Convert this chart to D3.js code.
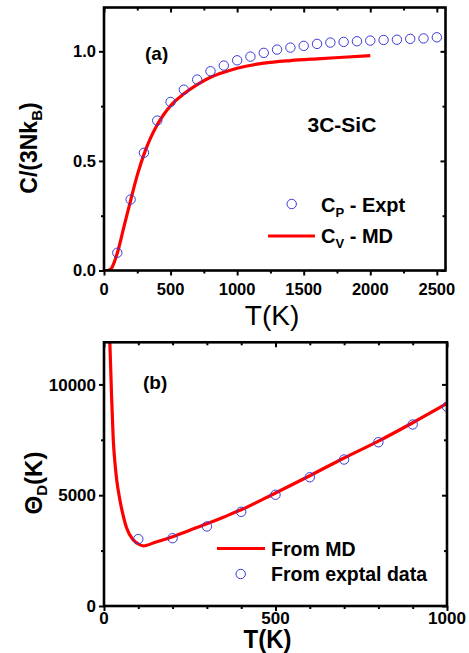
<!DOCTYPE html>
<html>
<head>
<meta charset="utf-8">
<script src="https://cdn.jsdelivr.net/npm/d3@7"></script>
<style>
  html, body { margin: 0; padding: 0; background: #fff; }
  svg { display: block; }
  text { font-family: "Liberation Sans", Arial, sans-serif; fill: #000; }
</style>
</head>
<body>
<svg id="chart" width="469" height="653"></svg>
<script>
// Panel (a): heat capacity of 3C-SiC
const cpTemps = [100, 200, 300, 400, 500, 600, 700, 800, 900, 1000, 1100, 1200, 1300,
                 1400, 1500, 1600, 1700, 1800, 1900, 2000, 2100, 2200, 2300, 2400, 2500];
const cpExpt  = [0.081, 0.324, 0.537, 0.684, 0.769, 0.825, 0.871, 0.909, 0.935, 0.959, 0.976, 0.993, 1.008,
                 1.017, 1.025, 1.034, 1.040, 1.043, 1.046, 1.049, 1.052, 1.053, 1.057, 1.059, 1.064];
const cvTemps = [0, 25, 50, 75, 100, 150, 200, 250, 300, 350, 400, 450, 500, 600, 700, 800,
                 900, 1000, 1200, 1400, 1600, 1800, 2000];
const cvMD    = [0, 0, 0.005, 0.035, 0.08, 0.2, 0.32, 0.435, 0.53, 0.605, 0.665, 0.713, 0.752, 0.806, 0.848, 0.882,
                 0.905, 0.923, 0.946, 0.958, 0.966, 0.973, 0.98];
const aXTicks = [0, 500, 1000, 1500, 2000, 2500];
const aYTicks = [0.0, 0.5, 1.0];

// Panel (b): Debye temperature
const thTempsMD = [16, 17, 20, 22, 27, 32, 37, 45, 52, 66, 85, 105, 115, 150, 200, 250, 300, 350,
                   400, 500, 600, 700, 800, 900, 1000];
const thetaMD   = [12300, 11900, 10500, 9500, 7500, 6450, 5700, 4900, 4350, 3520, 2990, 2760, 2715, 2880,
                   3130, 3420, 3710, 4020, 4340, 5100, 5880, 6680, 7440, 8270, 9140];
const thTempsEx = [100, 200, 300, 400, 500, 600, 700, 800, 900, 1000];
const thetaEx   = [3020, 3060, 3590, 4250, 5020, 5810, 6610, 7390, 8190, 8990];
const bXTicks = [0, 500, 1000];
const bYTicks = [0, 5000, 10000];

const RED = "#ff0000";
const BLUE = "#3a3ad8";

const svg = d3.select("#chart");

function range(a, b, s) { const r = []; for (let v = a; v <= b + 1e-9; v += s) r.push(+v.toFixed(6)); return r; }

function drawFrame(g, x, y, opts) {
  const [x0, x1] = x.range(), [y0, y1] = y.range();
  const left = Math.min(x0, x1), right = Math.max(x0, x1);
  const top = Math.min(y0, y1), bottom = Math.max(y0, y1);

  const clean = sel => { sel.select(".domain").remove(); sel.selectAll("line").attr("stroke", "#000").attr("stroke-width", 2); };

  // bottom / left: ticks outward
  g.append("g").attr("transform", `translate(0,${bottom})`)
    .call(d3.axisBottom(x).tickValues(opts.xMinor).tickSize(3).tickFormat("")).call(clean);
  g.append("g").attr("transform", `translate(0,${bottom})`)
    .call(d3.axisBottom(x).tickValues(opts.xMajor).tickSize(5).tickFormat("")).call(clean);
  g.append("g").attr("transform", `translate(${left},0)`)
    .call(d3.axisLeft(y).tickValues(opts.yMinor).tickSize(3).tickFormat("")).call(clean);
  g.append("g").attr("transform", `translate(${left},0)`)
    .call(d3.axisLeft(y).tickValues(opts.yMajor).tickSize(5).tickFormat("")).call(clean);
  // top / right: ticks inward
  g.append("g").attr("transform", `translate(0,${top})`)
    .call(d3.axisTop(x).tickValues(opts.xMinor).tickSize(-3).tickFormat("")).call(clean);
  g.append("g").attr("transform", `translate(0,${top})`)
    .call(d3.axisTop(x).tickValues(opts.xMajor).tickSize(-5).tickFormat("")).call(clean);
  g.append("g").attr("transform", `translate(${right},0)`)
    .call(d3.axisRight(y).tickValues(opts.yMinor).tickSize(-3).tickFormat("")).call(clean);
  g.append("g").attr("transform", `translate(${right},0)`)
    .call(d3.axisRight(y).tickValues(opts.yMajor).tickSize(-5).tickFormat("")).call(clean);

  g.append("rect")
    .attr("x", left).attr("y", top).attr("width", right - left).attr("height", bottom - top)
    .attr("fill", "none").attr("stroke", "#000").attr("stroke-width", 2.6);

  // tick labels
  g.selectAll(null).data(opts.xLabels).join("text")
    .attr("x", d => x(d)).attr("y", opts.xLabelY)
    .attr("text-anchor", "middle").attr("font-weight", "bold").attr("font-size", opts.labelSize)
    .text(d => opts.xFmt(d));
  g.selectAll(null).data(opts.yLabels).join("text")
    .attr("x", left - 8).attr("y", d => y(d)).attr("dy", "0.36em")
    .attr("text-anchor", "end").attr("font-weight", "bold").attr("font-size", opts.labelSize)
    .text(d => opts.yFmt(d));
}

/* ---------- panel (a) ---------- */
const xa = d3.scaleLinear().domain([0, 2565]).range([104, 445.5]);
const ya = d3.scaleLinear().domain([0, 1.2]).range([270.5, 7.5]);
const ga = svg.append("g");

ga.append("clipPath").attr("id", "clipA").append("rect")
  .attr("x", 104).attr("y", 7.5).attr("width", 341.5).attr("height", 263);

const lineA = d3.line().x(d => xa(d[0])).y(d => ya(d[1])).curve(d3.curveMonotoneX);
ga.append("path")
  .attr("clip-path", "url(#clipA)")
  .datum(cvTemps.map((t, i) => [t, cvMD[i]]))
  .attr("d", lineA).attr("fill", "none").attr("stroke", RED).attr("stroke-width", 3.2);

ga.append("g").attr("clip-path", "url(#clipA)")
  .selectAll("circle").data(cpTemps.map((t, i) => [t, cpExpt[i]])).join("circle")
  .attr("cx", d => xa(d[0])).attr("cy", d => ya(d[1])).attr("r", 4.7)
  .attr("fill", "none").attr("stroke", BLUE).attr("stroke-width", 1);

drawFrame(ga, xa, ya, {
  xMajor: range(0, 2500, 500), xMinor: range(250, 2250, 500),
  yMajor: [0, 0.5, 1.0], yMinor: [0.25, 0.75],
  xLabels: aXTicks, yLabels: aYTicks, xLabelY: 295, labelSize: 16.5,
  xFmt: d3.format("d"), yFmt: d3.format(".1f")
});

ga.append("text").attr("x", 272).attr("y", 325).attr("text-anchor", "middle")
  .attr("font-size", 28).text("T(K)");

const yTitleA = ga.append("text").attr("transform", "translate(37,148) rotate(-90)")
  .attr("text-anchor", "middle").attr("font-weight", "bold").attr("font-size", 23);
yTitleA.append("tspan").text("C/(3Nk");
yTitleA.append("tspan").attr("font-size", 15).attr("dy", 5).text("B");
yTitleA.append("tspan").attr("dy", -5).text(")");

ga.append("text").attr("x", 145).attr("y", 60).attr("font-weight", "bold").attr("font-size", 19).text("(a)");
ga.append("text").attr("x", 307.5).attr("y", 131.7).attr("font-weight", "bold").attr("font-size", 21).text("3C-SiC");

// legend (a)
ga.append("circle").attr("cx", 291.7).attr("cy", 204).attr("r", 4.7)
  .attr("fill", "none").attr("stroke", BLUE).attr("stroke-width", 1);
const la1 = ga.append("text").attr("x", 321).attr("y", 211.5).attr("font-weight", "bold").attr("font-size", 20);
la1.append("tspan").text("C");
la1.append("tspan").attr("font-size", 13).attr("dy", 5).text("P");
la1.append("tspan").attr("dy", -5).text(" - Expt");
ga.append("line").attr("x1", 268).attr("x2", 315).attr("y1", 236).attr("y2", 236)
  .attr("stroke", RED).attr("stroke-width", 3.2);
const la2 = ga.append("text").attr("x", 321).attr("y", 242.5).attr("font-weight", "bold").attr("font-size", 20);
la2.append("tspan").text("C");
la2.append("tspan").attr("font-size", 13).attr("dy", 5).text("V");
la2.append("tspan").attr("dy", -5).text(" - MD");

/* ---------- panel (b) ---------- */
const xb = d3.scaleLinear().domain([0, 1000]).range([104, 447]);
const yb = d3.scaleLinear().domain([0, 11900]).range([606, 342.3]);
const gb = svg.append("g");

gb.append("clipPath").attr("id", "clipB").append("rect")
  .attr("x", 104).attr("y", 342.3).attr("width", 343).attr("height", 263.7);

const lineB = d3.line().x(d => xb(d[0])).y(d => yb(d[1])).curve(d3.curveMonotoneX);
gb.append("path")
  .attr("clip-path", "url(#clipB)")
  .datum(thTempsMD.map((t, i) => [t, thetaMD[i]]))
  .attr("d", lineB).attr("fill", "none").attr("stroke", RED).attr("stroke-width", 3.2);

gb.append("g").attr("clip-path", "url(#clipB)")
  .selectAll("circle").data(thTempsEx.map((t, i) => [t, thetaEx[i]])).join("circle")
  .attr("cx", d => xb(d[0])).attr("cy", d => yb(d[1])).attr("r", 4.7)
  .attr("fill", "none").attr("stroke", BLUE).attr("stroke-width", 1);

drawFrame(gb, xb, yb, {
  xMajor: [0, 500, 1000], xMinor: range(100, 900, 100).filter(v => v !== 500),
  yMajor: [0, 5000, 10000], yMinor: [2500, 7500],
  xLabels: bXTicks, yLabels: bYTicks, xLabelY: 624, labelSize: 17,
  xFmt: d3.format("d"), yFmt: d3.format("d")
});

gb.append("text").attr("transform", "translate(267.5,648) scale(1,1.1)").attr("text-anchor", "middle")
  .attr("font-weight", "bold").attr("font-size", 24).text("T(K)");

const yTitleB = gb.append("text").attr("transform", "translate(42,483) rotate(-90)")
  .attr("text-anchor", "middle").attr("font-weight", "bold").attr("font-size", 24);
yTitleB.append("tspan").text("Θ");
yTitleB.append("tspan").attr("font-size", 15).attr("dy", 5).text("D");
yTitleB.append("tspan").attr("dy", -5).text("(K)");

gb.append("text").attr("x", 143).attr("y", 389).attr("font-weight", "bold").attr("font-size", 19).text("(b)");

// legend (b)
gb.append("line").attr("x1", 217).attr("x2", 265).attr("y1", 548.5).attr("y2", 548.5)
  .attr("stroke", RED).attr("stroke-width", 3.2);
gb.append("text").attr("x", 271).attr("y", 555.7).attr("font-weight", "bold").attr("font-size", 19.5).text("From MD");
gb.append("circle").attr("cx", 240.7).attr("cy", 574).attr("r", 4.7)
  .attr("fill", "none").attr("stroke", BLUE).attr("stroke-width", 1);
gb.append("text").attr("x", 271).attr("y", 580.7).attr("font-weight", "bold").attr("font-size", 19.5).text("From exptal data");
</script>
</body>
</html>
